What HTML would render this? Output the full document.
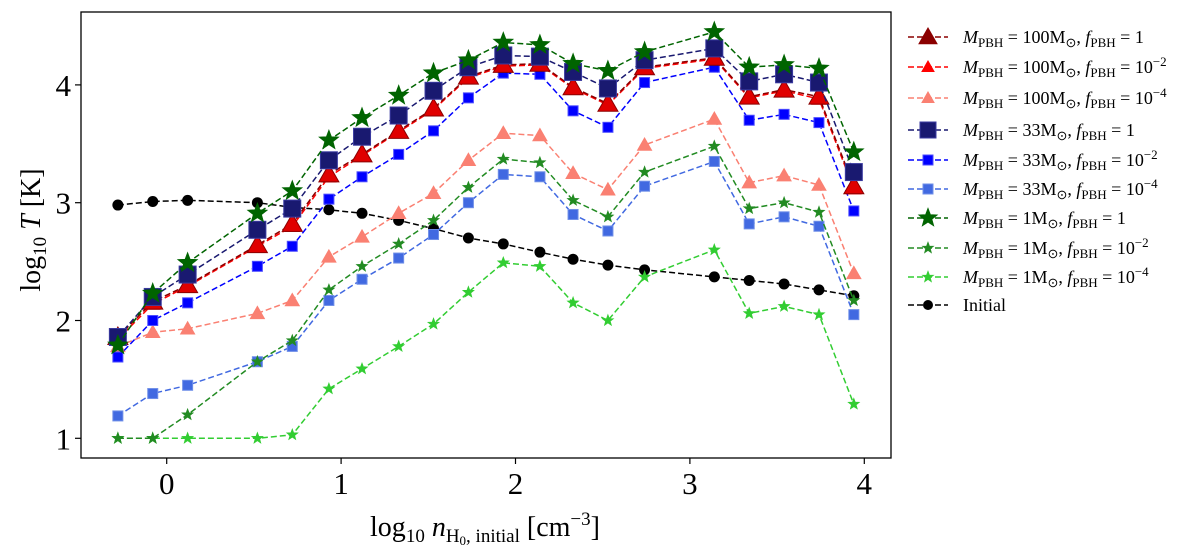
<!DOCTYPE html>
<html><head><meta charset="utf-8"><style>
html,body{margin:0;padding:0;background:#fff;}
svg{display:block;font-family:"Liberation Serif",serif;}
</style></head><body>
<svg id="chart" width="1200" height="560" viewBox="0 0 1200 560">
<rect x="0" y="0" width="1200" height="560" fill="#fff"/>
<g id="marks"></g>
<rect x="81" y="12" width="810" height="446" fill="none" stroke="#000" stroke-width="1.3"/>
<g id="axes"></g>
<text x="46" y="236" font-size="28" text-anchor="middle" transform="rotate(-90 40 236)">log<tspan font-size="19" dy="6">10</tspan><tspan dy="-6"> </tspan><tspan font-style="italic">T</tspan> [K]</text>
<text x="485" y="536" font-size="28" text-anchor="middle">log<tspan font-size="19" dy="6">10</tspan><tspan dy="-6">  </tspan><tspan font-style="italic">n</tspan><tspan font-size="19" dy="6">H<tspan font-size="13" dy="3">0</tspan><tspan dy="-3">, initial</tspan></tspan><tspan dy="-6"> [cm</tspan><tspan font-size="19" dy="-11">−3</tspan><tspan dy="11">]</tspan></text>
<g id="legend"></g>
</svg>
<script>
const xVals=[-0.28,-0.08,0.12,0.52,0.72,0.93,1.12,1.33,1.53,1.73,1.93,2.14,2.33,2.53,2.74,3.14,3.34,3.54,3.74,3.94];
const initial=[2.98,3.01,3.02,3.00,2.96,2.94,2.91,2.85,2.78,2.70,2.65,2.58,2.52,2.47,2.43,2.37,2.34,2.31,2.26,2.21];
const m100f0=[1.86,2.16,2.30,2.64,2.82,3.24,3.41,3.61,3.80,4.07,4.17,4.18,3.98,3.84,4.15,4.23,3.90,3.96,3.90,3.14];
const m100f2=[1.84,2.14,2.29,2.63,2.80,3.22,3.40,3.60,3.79,4.06,4.16,4.17,3.97,3.83,4.14,4.22,3.89,3.95,3.88,3.12];
const m100f4=[1.78,1.90,1.93,2.06,2.17,2.54,2.71,2.91,3.08,3.36,3.59,3.57,3.25,3.11,3.49,3.71,3.17,3.23,3.15,2.40];
const m33f0=[1.86,2.20,2.39,2.77,2.95,3.36,3.56,3.74,3.95,4.15,4.25,4.24,4.11,3.97,4.21,4.31,4.03,4.09,4.02,3.26];
const m33f2=[1.69,2.00,2.15,2.46,2.63,3.03,3.22,3.41,3.61,3.89,4.10,4.09,3.78,3.64,4.02,4.15,3.70,3.75,3.68,2.93];
const m33f4=[1.19,1.38,1.45,1.65,1.78,2.17,2.35,2.53,2.73,3.00,3.24,3.22,2.90,2.76,3.14,3.35,2.82,2.88,2.80,2.05];
const m1f0=[1.79,2.23,2.49,2.91,3.10,3.53,3.72,3.91,4.10,4.21,4.36,4.34,4.18,4.12,4.28,4.45,4.15,4.17,4.14,3.43];
const m1f2=[1.00,1.00,1.20,1.65,1.83,2.26,2.46,2.65,2.85,3.13,3.37,3.34,3.02,2.88,3.26,3.48,2.95,3.00,2.92,2.17];
const m1f4=[1.00,1.00,1.00,1.00,1.03,1.42,1.59,1.78,1.97,2.24,2.49,2.46,2.15,2.00,2.37,2.60,2.06,2.12,2.05,1.29];
const xTicks=[0,1,2,3,4];
const yTicks=[1,2,3,4];

const NS="http://www.w3.org/2000/svg";
const xs=v=>166.7+v*174.4;
const ys=v=>438.3-(v-1)*117.8;
function mk(tag,attrs,parent){const e=document.createElementNS(NS,tag);for(const k in attrs)e.setAttribute(k,attrs[k]);parent.appendChild(e);return e;}
function marker(g,type,s,cx,cy,fill,edge){
  if(type==='tri'){const h=s;return mk('polygon',{points:`${cx},${cy-h} ${cx-h},${cy+h*0.75} ${cx+h},${cy+h*0.75}`,fill:fill,stroke:edge,'stroke-width':1},g);}
  if(type==='sq'){return mk('rect',{x:cx-s,y:cy-s,width:2*s,height:2*s,fill:fill,stroke:edge,'stroke-width':1},g);}
  if(type==='star'){let p=[];for(let i=0;i<10;i++){const r=i%2?s*0.42:s;const a=-Math.PI/2+i*Math.PI/5;p.push((cx+r*Math.cos(a)).toFixed(1)+','+(cy+r*Math.sin(a)).toFixed(1));}return mk('polygon',{points:p.join(' '),fill:fill,stroke:edge,'stroke-width':0.6},g);}
  return mk('circle',{cx:cx,cy:cy,r:s,fill:fill},g);
}
const series=[
 {name:'series-initial',d:initial,c:'#000',m:'circ',s:5.5,e:'#000',lab:'Initial'},
 {name:'series-m1-f1e-4',d:m1f4,c:'#32cd32',m:'star',s:6,e:'#32cd32',M:'1',f:'10',ex:'−4'},
 {name:'series-m33-f1e-4',d:m33f4,c:'#4169e1',m:'sq',s:5,e:'#6f8fe8',M:'33',f:'10',ex:'−4'},
 {name:'series-m1-f1e-2',d:m1f2,c:'#228b22',m:'star',s:6,e:'#228b22',M:'1',f:'10',ex:'−2'},
 {name:'series-m100-f1e-4',d:m100f4,c:'#fa8072',m:'tri',s:7,e:'#fa8072',M:'100',f:'10',ex:'−4'},
 {name:'series-m33-f1e-2',d:m33f2,c:'#0000ff',m:'sq',s:5,e:'#4d4dff',M:'33',f:'10',ex:'−2'},
 {name:'series-m100-f1e-2',d:m100f2,c:'#ff0000',m:'tri',s:7,e:'#ff0000',M:'100',f:'10',ex:'−2'},
 {name:'series-m100-f1',d:m100f0,c:'#8b0000',m:'tri',s:10,e:'#8b0000',fill:'#e00000',M:'100',f:'1'},
 {name:'series-m33-f1',d:m33f0,c:'#191970',m:'sq',s:8.5,e:'#3a3aa0',M:'33',f:'1'},
 {name:'series-m1-f1',d:m1f0,c:'#006400',m:'star',s:10.5,e:'#006400',M:'1',f:'1'}
];
const marks=document.getElementById('marks');
series.forEach(sr=>{
  const g=mk('g',{},marks);
  
  
  const pts=sr.d.map((v,i)=>xs(xVals[i]).toFixed(1)+','+ys(v).toFixed(1)).join(' ');
  mk('polyline',{points:pts,fill:'none',stroke:sr.c,'stroke-width':1.5,'stroke-dasharray':'6,3'},g);
  sr.d.forEach((v,i)=>{const p=marker(g,sr.m,sr.s,xs(xVals[i]),ys(v),sr.fill||sr.c,sr.e);
    
    });
});
const axes=document.getElementById('axes');
xTicks.forEach(t=>{const x=xs(t);
  mk('line',{x1:x,y1:458,x2:x,y2:464,stroke:'#000','stroke-width':1.2},axes);
  const tx=mk('text',{x:x,y:494,'font-size':31,'text-anchor':'middle'},axes);tx.textContent=t;
  
  });
yTicks.forEach(t=>{const y=ys(t);
  mk('line',{x1:75,y1:y,x2:81,y2:y,stroke:'#000','stroke-width':1.2},axes);
  const tx=mk('text',{x:71,y:y+11,'font-size':31,'text-anchor':'end'},axes);tx.textContent=t;
  
  });
const order=[7,6,4,8,5,2,9,3,1,0];
const lg=document.getElementById('legend');
const lys=[37,67,98,130,160,189,218,248,277,305];
order.forEach((si,k)=>{const sr=series[si];const y=lys[k];
  const g=mk('g',{},lg);
  
  
  mk('line',{x1:908,y1:y,x2:948,y2:y,stroke:sr.c,'stroke-width':1.5,'stroke-dasharray':'6,3'},g);
  const ms=sr.m==='tri'?(sr.s>9?9:6):sr.m==='sq'?(sr.s>8?8:5):sr.m==='star'?(sr.s>9?10:6):5;
  marker(g,sr.m,ms,928,y,sr.fill?'#8b0000':sr.c,sr.e);
  const t=mk('text',{x:963,y:y+6,'font-size':18},g);
  if(sr.lab){t.textContent=sr.lab;}
  else{t.innerHTML=`<tspan font-style="italic">M</tspan><tspan font-size="13" dy="4">PBH</tspan><tspan dy="-4"> = ${sr.M}M</tspan><tspan font-size="13" dy="4">⊙</tspan><tspan dy="-4">, </tspan><tspan font-style="italic">f</tspan><tspan font-size="13" dy="4">PBH</tspan><tspan dy="-4"> = ${sr.f}</tspan>`+(sr.ex?`<tspan font-size="13" dy="-7">${sr.ex}</tspan>`:'');}
});
</script>
</body></html>
